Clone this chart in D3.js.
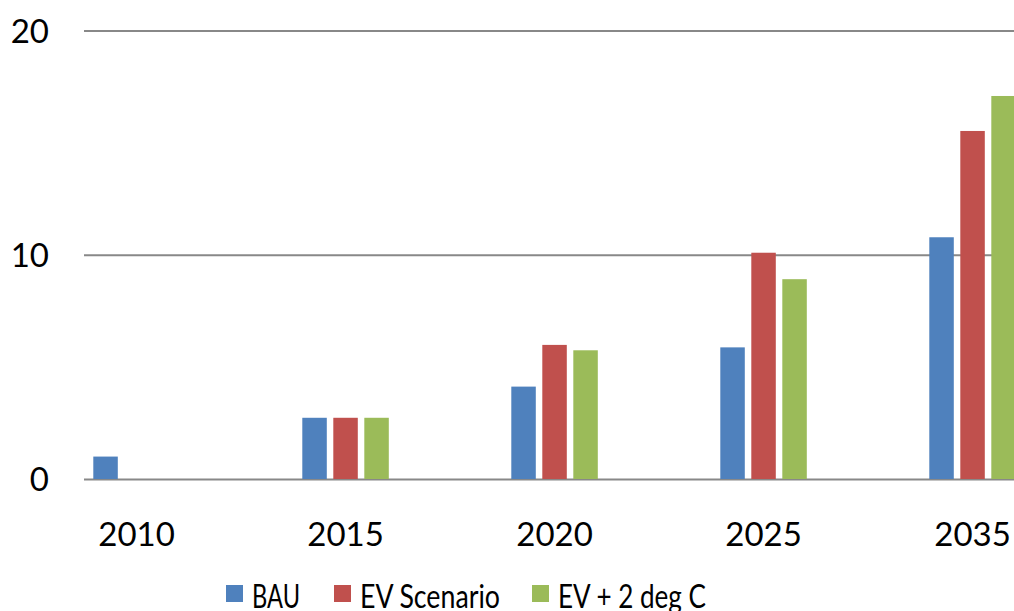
<!DOCTYPE html>
<html>
<head>
<meta charset="utf-8">
<script src="https://cdn.jsdelivr.net/npm/d3@7"></script>
<style>
  body { margin: 0; background: #fff; }
  svg text { font-family: Lato, "Open Sans", sans-serif; fill: #000; }
</style>
</head>
<body>
<div id="chart"></div>
<script>
"use strict"

// data
var years = ["2010", "2015", "2020", "2025", "2035"];
var seriesNames = ["BAU", "EV Scenario", "EV + 2 deg C"];
var bau = [1.0, 2.73, 4.12, 5.87, 10.78];
var evScenario = [0, 2.73, 5.98, 10.09, 15.52];
var ev2deg = [0, 2.73, 5.74, 8.91, 17.08];
var yTicks = [0, 10, 20];
var colors = ["#4F81BD", "#C0504D", "#9BBB59"];

var width = 1014,
	height = 611;

var svg = d3.select("#chart").append("svg")
	.attr("width", width)
	.attr("height", height);

var y = d3.scaleLinear()
	.domain([0, 20])
	.range([479, 30.5]);

// one band per year, step 209px
var x = d3.scaleBand()
	.domain(years)
	.range([32, 32 + 209 * years.length]);

var xSub = d3.scaleBand()
	.domain(seriesNames)
	.range([61.3, 61.3 + 86.5])
	.paddingInner(0.21);

// gridlines + y labels
var yAxis = svg.append("g")
	.attr("transform", "translate(84,0)")
	.call(d3.axisLeft(y).tickValues(yTicks).tickSize(-930).tickPadding(35));
yAxis.select(".domain").remove();
yAxis.selectAll("line").attr("stroke", "#888").attr("stroke-width", 2.2);
yAxis.selectAll("text")
	.style("font-size", "33px")
	.style("font-family", "Lato, sans-serif")
	.attr("fill", "#000")
	.attr("dy", "0.36em");

// bars
var rows = [];
for (var i = 0; i < years.length; i++) {
	var vals = [bau[i], evScenario[i], ev2deg[i]];
	for (var j = 0; j < seriesNames.length; j++) {
		if (vals[j] > 0) rows.push({year: years[i], s: seriesNames[j], v: vals[j], c: colors[j]});
	}
}

svg.append("g").selectAll("rect").data(rows)
	.enter().append("rect")
	.attr("x", function(d) { return x(d.year) + xSub(d.s); })
	.attr("y", function(d) { return y(d.v); })
	.attr("width", xSub.bandwidth())
	.attr("height", function(d) { return y(0) - y(d.v); })
	.attr("fill", function(d) { return d.c; });

// x labels
var xAxis = svg.append("g")
	.attr("transform", "translate(0,479)")
	.call(d3.axisBottom(x).tickSize(0).tickPadding(0));
xAxis.select(".domain").remove();
xAxis.selectAll("text")
	.style("font-size", "33px")
	.style("font-family", "Lato, sans-serif")
	.attr("fill", "#000")
	.attr("y", 67)
	.attr("dy", 0);
xAxis.selectAll(".tick").attr("transform", function(d) {
	return "translate(" + (x(d) + xSub(seriesNames[1]) + xSub.bandwidth() / 2) + ",0)";
});

// legend (Calibri in the original is narrower, so squeeze the text)
var legendX = [226, 334, 532];
var legendTextW = [48, 140, 148];
var legend = svg.append("g").selectAll("g").data(seriesNames)
	.enter().append("g")
	.attr("transform", function(d, i) { return "translate(" + legendX[i] + ",585)"; });
legend.append("rect")
	.attr("width", 17)
	.attr("height", 17)
	.attr("fill", function(d, i) { return colors[i]; });
legend.append("text")
	.attr("x", 26)
	.attr("y", 23)
	.attr("textLength", function(d, i) { return legendTextW[i]; })
	.attr("lengthAdjust", "spacingAndGlyphs")
	.style("font-size", "33px")
	.text(function(d) { return d; });
</script>
</body>
</html>
